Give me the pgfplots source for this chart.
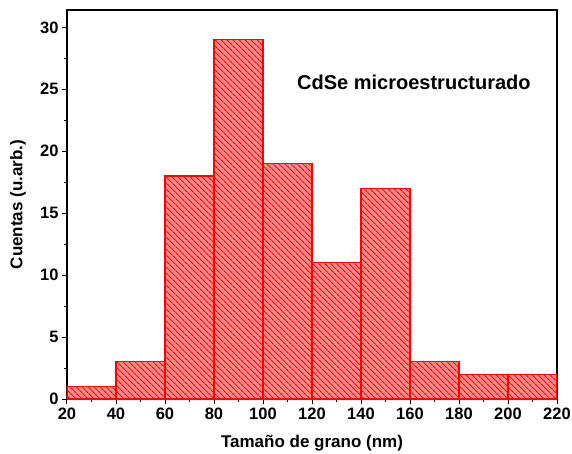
\documentclass[border=0pt]{standalone}
\usepackage{fontspec}
\setmainfont{Liberation Sans}
\usepackage{pgfplots}
\pgfplotsset{compat=1.18}
\usetikzlibrary{patterns.meta}
\begin{document}
\begin{tikzpicture}
\useasboundingbox (-67pt,-54pt) rectangle (505pt,399pt);
\begin{axis}[
    at={(0,0)}, anchor=south west,
    scale only axis,
    width=490pt, height=389pt,
    xmin=20, xmax=220,
    ymin=0, ymax=31.4,
    xtick={20,40,...,220},
    ytick={0,5,...,30},
    minor x tick num=1,
    minor y tick num=1,
    tick pos=left,
    tick align=outside,
    major tick length=5pt,
    minor tick length=3pt,
    every tick/.style={black, line width=1pt},
    axis line style={black, line width=1.3pt},
    /pgf/number format/assume math mode=true,
    ticklabel style={font=\bfseries\fontsize{16.5}{18}\selectfont},
    xlabel={Tamaño de grano (nm)},
    ylabel={Cuentas (u.arb.)},
    label style={font=\bfseries\fontsize{17}{19}\selectfont},
    xlabel style={at={(axis description cs:0.5,-0.113)}, anchor=center},
    ylabel style={at={(axis description cs:-0.1,0.5)}, anchor=center},
]
\addplot[ybar interval, draw=red, line width=1.1pt, fill=red!45,
    postaction={pattern={Lines[angle=-45,distance=4pt,line width=1.2pt]}, pattern color=red}]
  coordinates {(20,1) (40,3) (60,18) (80,29) (100,19) (120,11) (140,17) (160,3) (180,2) (200,2) (220,2)};
\node[font=\bfseries\fontsize{20}{22}\selectfont] at (axis cs:161.6,25.6) {CdSe microestructurado};
\end{axis}
\end{tikzpicture}
\end{document}
